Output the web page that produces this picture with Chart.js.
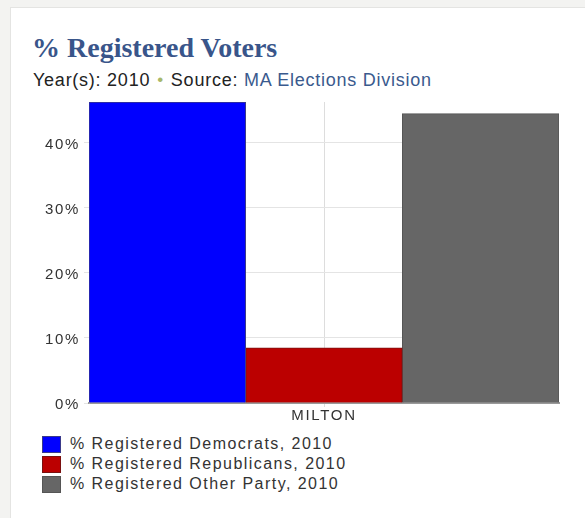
<!DOCTYPE html>
<html>
<head>
<meta charset="utf-8">
<script src="https://cdn.jsdelivr.net/npm/chart.js@4.4.1/dist/chart.umd.min.js"></script>
<style>
  html, body { margin:0; padding:0; background:#f3f3f1; width:585px; height:518px; overflow:hidden; }
  #card { position:absolute; left:10px; top:7px; width:590px; height:530px; background:#fff; border:1px solid #e4e4e2; box-sizing:border-box; }
  #title { position:absolute; left:32px; top:32px; font-family:"Liberation Serif", serif; font-weight:bold; font-size:28px; color:#39558a; white-space:nowrap; }
  #sub { position:absolute; left:33px; top:70px; font-family:"Liberation Sans", Arial, sans-serif; font-size:18px; letter-spacing:0.75px; color:#222; white-space:nowrap; }
  #sub .dot { color:#a8b86a; margin:0 7px; font-size:17px; position:relative; top:-1px; }
  #sub .src { color:#3a5a8e; }
  #wrap { position:absolute; left:10px; top:89px; width:565px; height:336px; }
  #legend { position:absolute; left:42px; top:434px; font-family:"Liberation Sans", Arial, sans-serif; font-size:16px; color:#333; letter-spacing:1.45px; }
  .row { height:20px; display:flex; align-items:center; white-space:nowrap; }
  .sw { width:19px; height:17px; margin-right:9px; box-sizing:border-box; }
</style>
</head>
<body>
<div id="card"></div>
<div id="title">% Registered Voters</div>
<div id="sub">Year(s): 2010<span class="dot">•</span>Source: <span class="src">MA Elections Division</span></div>
<div id="wrap"><canvas id="c" width="565" height="336"></canvas></div>
<div id="legend"></div>
<script>
const categories = ['MILTON'];
const seriesLabels = ['% Registered Democrats, 2010', '% Registered Republicans, 2010', '% Registered Other Party, 2010'];
const democrats = [46.3];
const republicans = [8.5];
const otherParty = [44.5];
const yTickValues = [0, 10, 20, 30, 40];
const colors = ['#0000ff', '#bb0000', '#666666'];
const borders = ['#3a3a8a', '#7a1010', '#555555'];

const spacing = {
  id: 'spacing',
  beforeDraw(chart) { chart.ctx.letterSpacing = '1.7px'; }
};

const chart = new Chart(document.getElementById('c'), {
  type: 'bar',
  data: {
    labels: categories,
    datasets: [democrats, republicans, otherParty].map((d, i) => ({
      label: seriesLabels[i],
      data: d,
      backgroundColor: colors[i],
      borderColor: borders[i],
      borderWidth: 1,
      categoryPercentage: 1,
      barPercentage: 1
    }))
  },
  options: {
    responsive: false,
    animation: false,
    layout: { padding: { top: 3, right: 16, left: 0, bottom: 0 } },
    plugins: { legend: { display: false }, tooltip: { enabled: false } },
    scales: {
      x: {
        grid: { offset: false, color: '#dddddd', tickLength: 4, drawOnChartArea: true },
        border: { color: '#999999', width: 2 },
        ticks: { color: '#333', font: { family: 'Liberation Sans', size: 15 }, padding: 0 },
        afterFit(s) { s.height = 22; }
      },
      y: {
        min: 0,
        max: 46.3,
        afterBuildTicks(s) { s.ticks = yTickValues.map(v => ({ value: v })); },
        grid: { color: '#e4e4e4', tickLength: 5 },
        border: { color: '#aaaaaa' },
        ticks: { color: '#333', font: { family: 'Liberation Sans', size: 15 }, padding: 4, labelOffset: 2, callback: v => v + '%' },
        afterFit(s) { s.width = 79; }
      }
    }
  },
  plugins: [spacing]
});

const lg = document.getElementById('legend');
chart.data.datasets.forEach(ds => {
  const r = document.createElement('div'); r.className = 'row';
  const s = document.createElement('div'); s.className = 'sw'; s.style.background = ds.backgroundColor; s.style.border = '1px solid ' + ds.borderColor;
  const t = document.createElement('span'); t.textContent = ds.label;
  r.appendChild(s); r.appendChild(t); lg.appendChild(r);
});
</script>
</body>
</html>
